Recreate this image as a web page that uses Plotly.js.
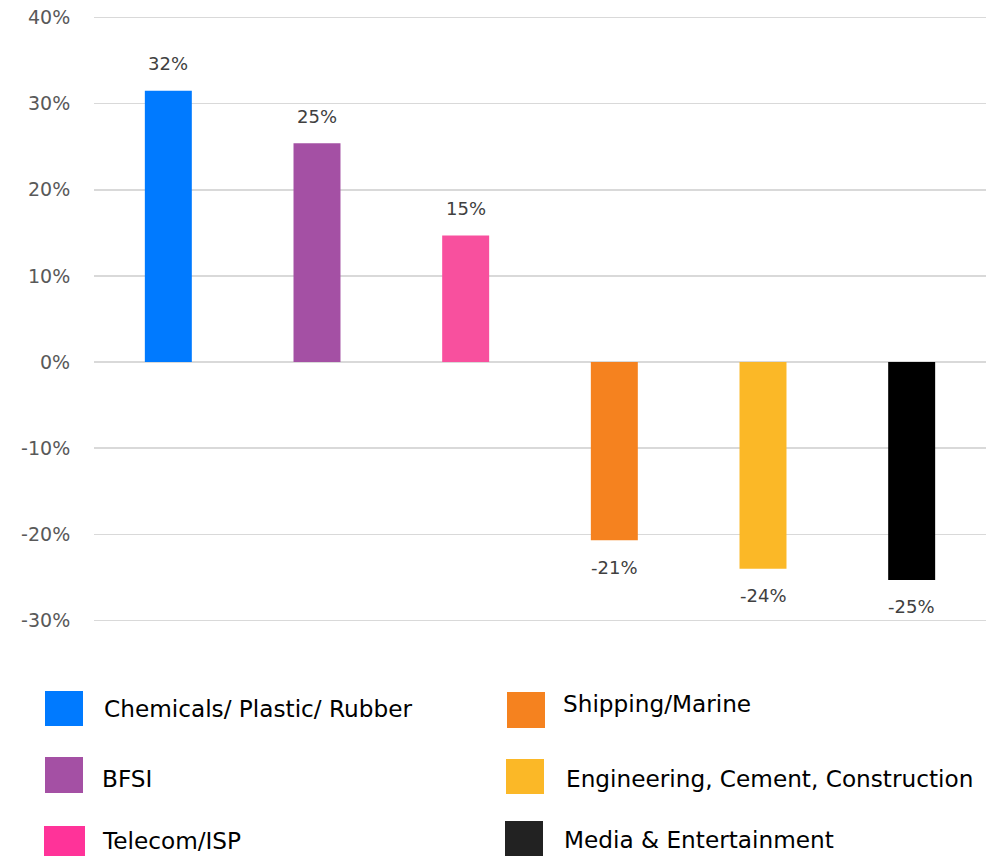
<!DOCTYPE html>
<html>
<head>
<meta charset="utf-8">
<script src="https://cdn.plot.ly/plotly-3.0.1.min.js"></script>
<style>html,body{margin:0;padding:0;background:#fff;}#chart{width:992px;height:856px;}</style>
</head>
<body>
<div id="chart"></div>
<script>
// ---- data ----
const categories = ["Chemicals/ Plastic/ Rubber", "BFSI", "Telecom/ISP", "Shipping/Marine", "Engineering, Cement, Construction", "Media & Entertainment"];
const values = [31.5, 25.4, 14.7, -20.7, -24.0, -25.3];
const barColors = ["#007AFF", "#A450A4", "#F8509E", "#F5821F", "#FBB827", "#000000"];
const legendColors = ["#007AFF", "#A450A4", "#FF3399", "#F5821F", "#FBB827", "#222222"];
const tickVals = [-30, -20, -10, 0, 10, 20, 30, 40];
const tickLabels = ["-30%", "-20%", "-10%", "0%", "10%", "20%", "30%", "40%"];

// ---- layout geometry (pixels) ----
const W = 992, H = 856;
const M = {l: 94, r: 6, t: 9, b: 227};
const pw = W - M.l - M.r, ph = H - M.t - M.b;
const px = x => (x - M.l) / pw;
const py = y => (H - M.b - y) / ph;

// legend item positions: swatch box [x0,x1,y0,y1], text anchor [x,y]
const legendPos = [
  {sw: [45, 83, 691, 726], tx: [102, 709]},
  {sw: [45, 83, 757, 793], tx: [100, 778]},
  {sw: [44, 85, 826, 860], tx: [100, 840]},
  {sw: [507, 545, 692, 728], tx: [561, 703]},
  {sw: [506, 544, 759, 794], tx: [564, 778]},
  {sw: [505, 543, 821, 860], tx: [562, 839]}
];

const font = "DejaVu Sans, Verdana, sans-serif";

const trace = {
  type: "bar",
  x: categories,
  y: values,
  marker: {color: barColors},
  width: 0.316,
  hoverinfo: "skip",
  showlegend: false
};

const annotations = categories.map((c, i) => ({
  x: c, y: values[i], xref: "x", yref: "y",
  text: Math.round(values[i]) + "%",
  showarrow: false,
  yshift: values[i] >= 0 ? 27 : -27,
  xanchor: "center", yanchor: "middle",
  font: {family: font, size: 18, color: "#404040"}
}));

const shapes = [];
categories.forEach((c, i) => {
  const p = legendPos[i];
  shapes.push({
    type: "rect", xref: "paper", yref: "paper",
    x0: px(p.sw[0]), x1: px(p.sw[1]), y0: py(p.sw[3]), y1: py(p.sw[2]),
    fillcolor: legendColors[i], line: {width: 0}, layer: "above"
  });
  annotations.push({
    xref: "paper", yref: "paper",
    x: px(p.tx[0]), y: py(p.tx[1]),
    text: c, showarrow: false,
    xanchor: "left", yanchor: "middle",
    font: {family: font, size: 23.2, color: "#000000"}
  });
});

const layout = {
  width: W, height: H,
  margin: M,
  paper_bgcolor: "#ffffff",
  plot_bgcolor: "#ffffff",
  showlegend: false,
  xaxis: {
    type: "category",
    showticklabels: false,
    showgrid: false,
    zeroline: false,
    showline: false,
    ticks: "",
    fixedrange: true
  },
  yaxis: {
    range: [-31, 41],
    tickvals: tickVals,
    ticktext: tickLabels,
    showgrid: true,
    gridcolor: "#D9D9D9",
    gridwidth: 1.5,
    zeroline: true,
    zerolinecolor: "#D9D9D9",
    zerolinewidth: 1.5,
    showline: false,
    ticks: "outside",
    ticklen: 19,
    tickcolor: "rgba(0,0,0,0)",
    tickfont: {family: font, size: 19, color: "#595959"},
    fixedrange: true
  },
  annotations: annotations,
  shapes: shapes
};

Plotly.newPlot("chart", [trace], layout, {displayModeBar: false, staticPlot: true});
</script>
</body>
</html>
